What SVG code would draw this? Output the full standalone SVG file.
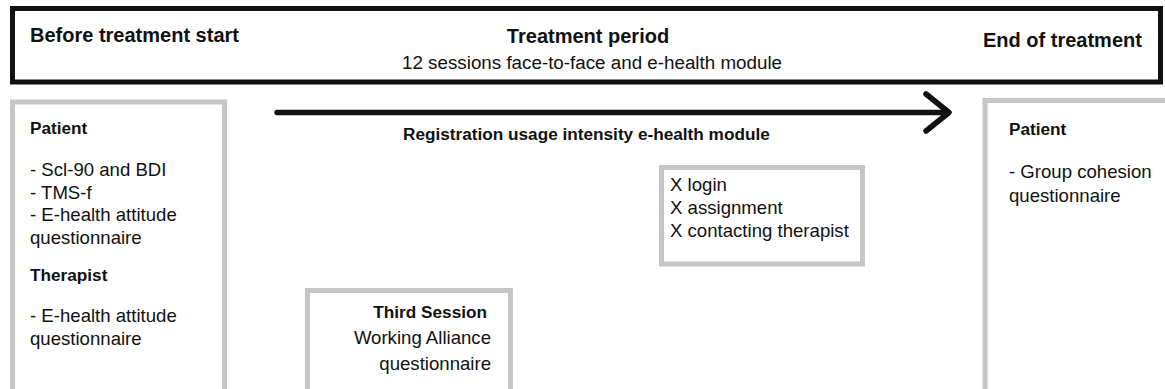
<svg xmlns="http://www.w3.org/2000/svg" width="1165" height="389" viewBox="0 0 1165 389">
  <style>
    text { font-family: "Liberation Sans", Arial, sans-serif; fill: #111; }
    .head { font-size: 20px; font-weight: bold; }
    .sub { font-size: 18.8px; }
    .lbl { font-size: 17.2px; font-weight: bold; }
    .body { font-size: 18.6px; }
    .frame { fill: #fff; stroke: #111; stroke-width: 5; }
    .box { fill: #fff; stroke: #c6c6c6; stroke-width: 5; }
    .arrow { fill: none; stroke: #111; stroke-width: 5.5; stroke-linecap: round; stroke-linejoin: round; }
  </style>
  <rect width="1165" height="389" fill="#fff"/>

  <!-- timeline header -->
  <g id="header">
    <rect class="frame" x="12.5" y="8.5" width="1148" height="73.5"/>
    <text class="head" x="30" y="42">Before treatment start</text>
    <text class="head" x="588" y="43" text-anchor="middle">Treatment period</text>
    <text class="sub" x="592" y="69" text-anchor="middle">12 sessions face-to-face and e-health module</text>
    <text class="head" x="983" y="47">End of treatment</text>
  </g>

  <!-- time arrow -->
  <g id="connectors">
    <path class="arrow" d="M277 112.5 H947"/>
    <path class="arrow" d="M926 94 L949 112.5 L926 131"/>
    <text class="lbl" x="403" y="140">Registration usage intensity e-health module</text>
  </g>

  <!-- baseline measures -->
  <g id="before">
    <rect class="box" x="12.5" y="102" width="212" height="300"/>
    <text class="lbl" x="30" y="134">Patient</text>
    <text class="body" x="30" y="176">- Scl-90 and BDI</text>
    <text class="body" x="30" y="199">- TMS-f</text>
    <text class="body" x="30" y="221">- E-health attitude</text>
    <text class="body" x="30" y="244">questionnaire</text>
    <text class="lbl" x="30" y="281">Therapist</text>
    <text class="body" x="30" y="322">- E-health attitude</text>
    <text class="body" x="30" y="345">questionnaire</text>
  </g>

  <!-- usage registration -->
  <g id="usage">
    <rect class="box" x="661.5" y="167.5" width="201" height="96.5"/>
    <text class="body" x="670" y="191">X login</text>
    <text class="body" x="670" y="214">X assignment</text>
    <text class="body" x="670" y="237">X contacting therapist</text>
  </g>

  <!-- third session measure -->
  <g id="third-session">
    <rect class="box" x="307.5" y="290.5" width="203" height="120"/>
    <text class="lbl" x="487" y="318" text-anchor="end">Third Session</text>
    <text class="body" x="491" y="344" text-anchor="end">Working Alliance</text>
    <text class="body" x="491" y="370" text-anchor="end">questionnaire</text>
  </g>

  <!-- end of treatment measure -->
  <g id="after">
    <rect class="box" x="985" y="100.5" width="200" height="300"/>
    <text class="lbl" x="1009" y="135">Patient</text>
    <text class="body" x="1009" y="178">- Group cohesion</text>
    <text class="body" x="1009" y="202">questionnaire</text>
  </g>
</svg>
